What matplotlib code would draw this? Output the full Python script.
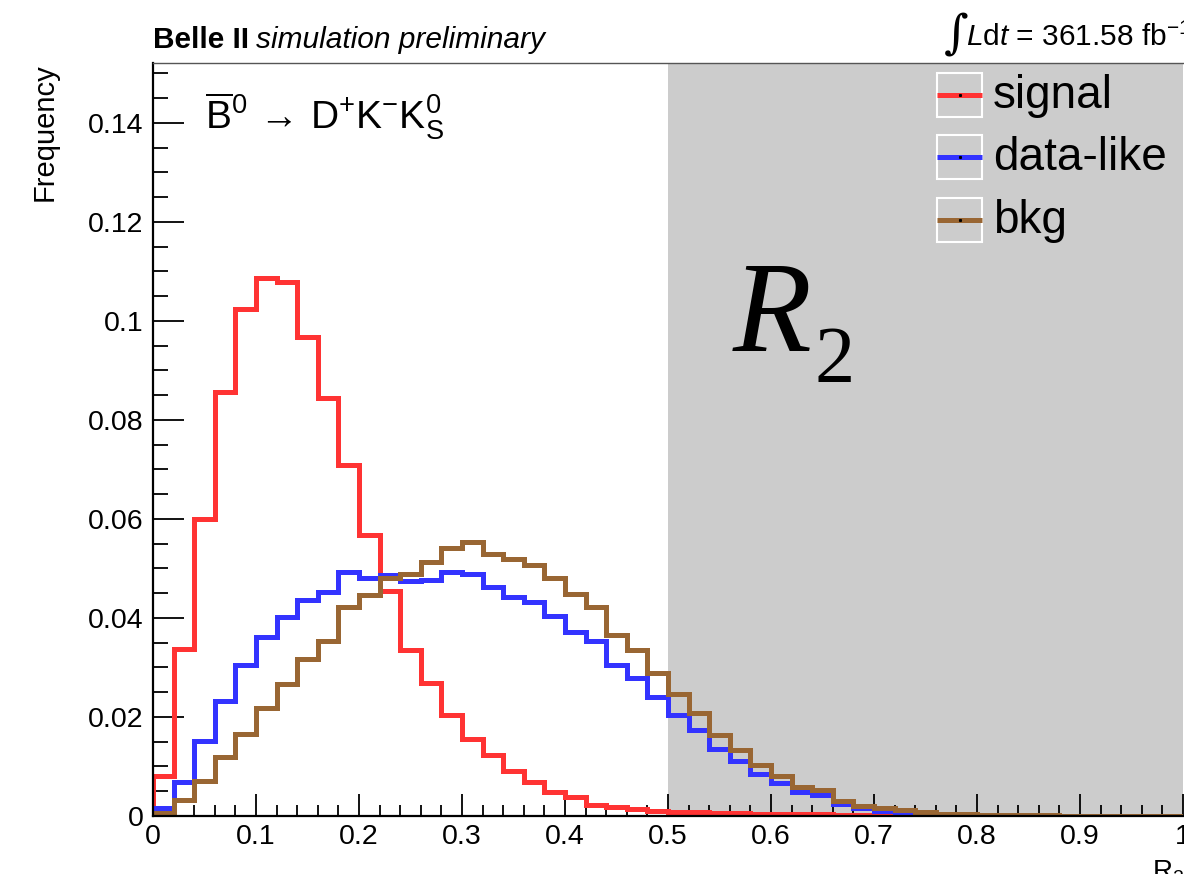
import numpy as np
import matplotlib
matplotlib.use("Agg")
import matplotlib.pyplot as plt
from matplotlib.patches import Rectangle
from matplotlib.lines import Line2D

plt.rcParams['font.family'] = ['Liberation Sans', 'DejaVu Sans']
plt.rcParams['mathtext.fontset'] = 'custom'
plt.rcParams['mathtext.rm'] = 'Liberation Sans'
plt.rcParams['mathtext.it'] = 'Liberation Sans:italic'
plt.rcParams['mathtext.bf'] = 'Liberation Sans:bold'

# ---------------- data ----------------
bin_edges = np.linspace(0.0, 1.0, 51)

signal = [0.0081, 0.0337, 0.0600, 0.0857, 0.1024, 0.1087, 0.1078, 0.0968, 0.0844, 0.0709,
          0.0567, 0.0455, 0.0335, 0.0268, 0.0204, 0.0156, 0.0123, 0.0090, 0.0068, 0.0049,
          0.0038, 0.0022, 0.0018, 0.0014, 0.0010, 0.0009, 0.0008, 0.0007, 0.0006, 0.0005,
          0.0005, 0.0004, 0.0004, 0.0003, 0.0003, 0.0002, 0.0002, 0.0002, 0.0001, 0.0001,
          0.0001, 0.0001, 0.0001, 0.0000, 0.0000, 0.0000, 0.0000, 0.0000, 0.0000, 0.0000]

data_like = [0.0017, 0.0069, 0.0152, 0.0232, 0.0305, 0.0361, 0.0401, 0.0436, 0.0453, 0.0492,
             0.0480, 0.0487, 0.0474, 0.0477, 0.0492, 0.0488, 0.0463, 0.0443, 0.0433, 0.0403,
             0.0372, 0.0354, 0.0305, 0.0278, 0.0241, 0.0204, 0.0174, 0.0135, 0.0112, 0.0085,
             0.0067, 0.0049, 0.0042, 0.0024, 0.0017, 0.0011, 0.0008, 0.0006, 0.0004, 0.0003,
             0.0002, 0.0002, 0.0001, 0.0001, 0.0001, 0.0000, 0.0000, 0.0000, 0.0000, 0.0000]

bkg = [0.0007, 0.0032, 0.0071, 0.0120, 0.0166, 0.0218, 0.0267, 0.0317, 0.0354, 0.0423,
       0.0446, 0.0481, 0.0489, 0.0513, 0.0541, 0.0553, 0.0529, 0.0519, 0.0508, 0.0480,
       0.0448, 0.0423, 0.0366, 0.0335, 0.0288, 0.0246, 0.0209, 0.0164, 0.0133, 0.0103,
       0.0081, 0.0059, 0.0053, 0.0031, 0.0021, 0.0017, 0.0012, 0.0009, 0.0005, 0.0004,
       0.0003, 0.0003, 0.0002, 0.0002, 0.0001, 0.0001, 0.0001, 0.0001, 0.0001, 0.0001]

series_labels = ['signal', 'data-like', 'bkg']
series_colors = ['#ff3333', '#3333ff', '#996633']

x_ticks = [0, 0.1, 0.2, 0.3, 0.4, 0.5, 0.6, 0.7, 0.8, 0.9, 1.0]
x_ticklabels = ['0', '0.1', '0.2', '0.3', '0.4', '0.5', '0.6', '0.7', '0.8', '0.9', '1']
y_ticks = [0, 0.02, 0.04, 0.06, 0.08, 0.10, 0.12, 0.14]
y_ticklabels = ['0', '0.02', '0.04', '0.06', '0.08', '0.1', '0.12', '0.14']
cut_value = 0.5

# ---------------- figure ----------------
W, H = 1184, 874
fig = plt.figure(figsize=(W / 100, H / 100), dpi=100)
fig.patch.set_facecolor('white')

def fx(px):
    return px / W

def fy(py):
    return 1 - py / H

ax = fig.add_axes([fx(153), fy(816), fx(1183) - fx(153), fy(63) - fy(816)])
ax.set_xlim(0, 1)
ax.set_ylim(0, 0.1521)

# shaded region
ax.axvspan(cut_value, 1.0, color='#cccccc', zorder=0.5, lw=0)

for vals, col in zip([signal, data_like, bkg], series_colors):
    ax.stairs(vals, bin_edges, color=col, lw=3.6, baseline=0, zorder=2,
              joinstyle='miter')

ax.set_xticks(x_ticks)
ax.set_xticklabels(x_ticklabels)
ax.set_yticks(y_ticks)
ax.set_yticklabels(y_ticklabels)
ax.set_xticks(np.arange(0, 1.0001, 0.02), minor=True)
ax.set_yticks(np.arange(0, 0.1521, 0.005), minor=True)
ax.tick_params(axis='both', which='both', direction='in', top=False, right=False,
               labelsize=20.5, width=1.3, color='black')
ax.tick_params(axis='x', which='major', length=16, pad=6)
ax.tick_params(axis='x', which='minor', length=8)
ax.tick_params(axis='y', which='major', length=22, pad=7)
ax.tick_params(axis='y', which='minor', length=11)
for s in ['left', 'bottom']:
    ax.spines[s].set_linewidth(1.6)
ax.spines['top'].set_linewidth(1.0)
ax.spines['top'].set_color('#555555')
ax.spines['right'].set_visible(False)
for s in ax.spines.values():
    s.set_zorder(3)

# axis titles
fig.text(fx(45), fy(63), 'Frequency', rotation=90, ha='center', va='top', fontsize=21)
fig.text(fx(1184), fy(858), r'R$_2$', ha='right', va='top', fontsize=20)

# header texts
renderer = fig.canvas.get_renderer()
t1 = fig.text(fx(153), fy(48), 'Belle II', fontsize=21.5, fontweight='bold', va='baseline')
bb = t1.get_window_extent(renderer=renderer)
fig.text(fx(bb.x1 + 7), fy(48), 'simulation preliminary', fontsize=21.5,
         style='italic', va='baseline')

fig.text(fx(944), fy(48), '\u222b', fontsize=34, family='DejaVu Serif', va='baseline')
fig.text(fx(966), fy(46), r'$L\mathrm{d}t$ = 361.58 fb$^{-1}$', fontsize=21.5,
         va='baseline')

# decay label
fig.text(fx(205), fy(129),
         r'$\overline{\mathrm{B}}^{0}\,\rightarrow\,\mathrm{D}^{+}\mathrm{K}^{-}\mathrm{K}^{0}_{\mathrm{S}}$',
         fontsize=28, va='baseline')

# big R2 label
fig.text(fx(733), fy(351), 'R', fontsize=93, family='Liberation Serif', style='italic',
         va='baseline')
fig.text(fx(814), fy(382), '2', fontsize=58, family='Liberation Serif', va='baseline')

# legend
box_tops = [73, 135, 198]
box_h = 44
for top, lab, col in zip(box_tops, series_labels, series_colors):
    fig.patches.append(Rectangle((fx(937), fy(top + box_h)), fx(982) - fx(937),
                                 fy(top) - fy(top + box_h), transform=fig.transFigure,
                                 facecolor='none', edgecolor='white', lw=1.5, zorder=5))
    yc = top + box_h / 2
    fig.lines.append(Line2D([fx(937), fx(982)], [fy(yc), fy(yc)], transform=fig.transFigure,
                            color=col, lw=3.6, zorder=6, solid_capstyle='butt'))
    fig.lines.append(Line2D([fx(959.5)], [fy(yc)], transform=fig.transFigure, marker='s',
                            markersize=1.2, color='black', lw=0, zorder=7))
    fig.text(fx(993), fy(yc + 13), lab, fontsize=33, va='baseline', zorder=8)

fig.savefig('out.png', dpi=100)
